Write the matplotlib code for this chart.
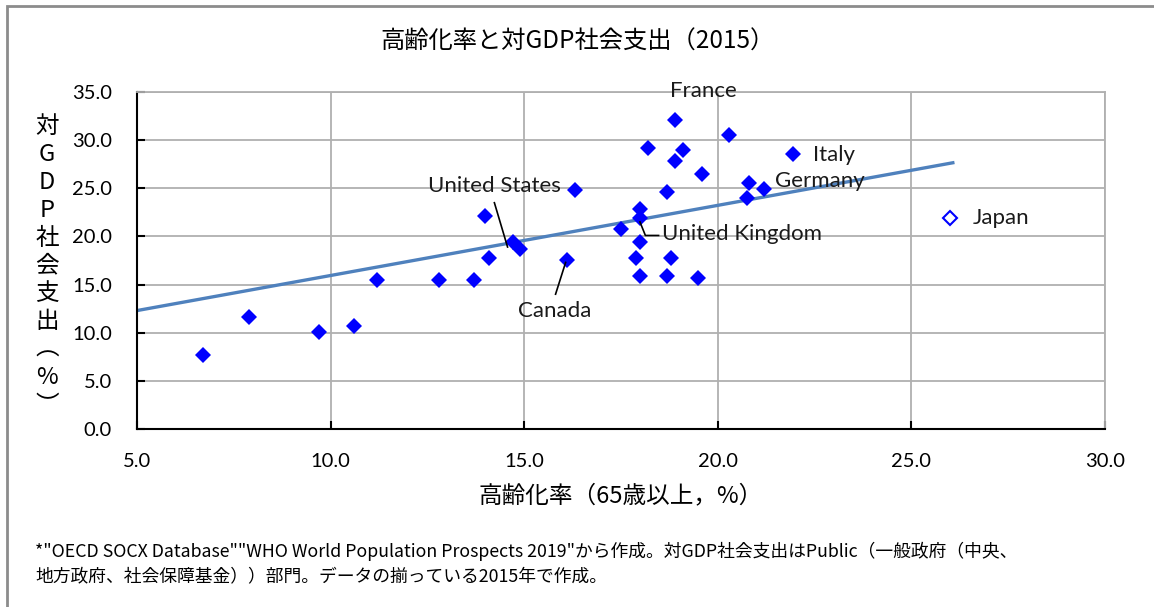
import numpy as np
import matplotlib
matplotlib.use("Agg")
import matplotlib.pyplot as plt
from matplotlib.patches import Rectangle

plt.rcParams['font.family'] = ['Noto Sans CJK JP', 'DejaVu Sans']

# Data: aging rate (%, 65+) and social expenditure (% of GDP), 2015
aging = [6.7, 7.9, 9.7, 10.6, 11.2, 12.8, 13.7, 14.0, 14.1, 14.7, 14.9,
         16.1, 16.3, 17.5, 18.0, 18.0, 18.0, 17.9, 18.0, 18.2, 18.9, 19.1,
         18.9, 18.7, 18.8, 18.7, 19.5, 19.6, 20.3, 20.8, 20.75, 21.2, 21.95]
social = [7.7, 11.6, 10.1, 10.7, 15.5, 15.5, 15.5, 22.1, 17.8, 19.4, 18.7,
          17.6, 24.8, 20.8, 22.9, 21.9, 19.45, 17.8, 15.9, 29.2, 32.1, 29.0,
          27.8, 24.6, 17.8, 15.9, 15.7, 26.5, 30.5, 25.5, 24.0, 24.9, 28.6]
japan_x = [26.0]
japan_y = [21.9]

# trend line as drawn in the reference (start / end values)
trend_x = [5.0, 26.07]
trend_y = [12.3, 27.65]

xticks = [5, 10, 15, 20, 25, 30]
yticks = [0, 5, 10, 15, 20, 25, 30, 35]

title = "高齢化率と対GDP社会支出（2015）"
xlabel = "高齢化率（65歳以上，%）"
ylabel_chars = ["対", "G", "D", "P", "社", "会", "支", "出", "︵", "%", "︶"]
note = ('*"OECD SOCX Database""WHO World Population Prospects 2019"から作成。対GDP社会支出はPublic（一般政府（中央、\n'
        '地方政府、社会保障基金））部門。データの揃っている2015年で作成。')

W, H = 1154, 607
fig = plt.figure(figsize=(W / 100, H / 100), dpi=100)
ax = fig.add_axes([137 / W, 1 - 429 / H, (1105 - 137) / W, (429 - 92) / H])

# chart frame
fig.patches.append(Rectangle((7 / W, -0.1), 1.2, 1 - 6 / H + 0.1, transform=fig.transFigure,
                             fill=False, edgecolor='#8c8c8c', linewidth=2))

ax.set_xlim(5, 30)
ax.set_ylim(0, 35)
ax.set_xticks(xticks)
ax.set_yticks(yticks)
ax.set_xticklabels([f"{v:.1f}" for v in xticks], fontfamily='Lato', fontsize=14.5)
ax.set_yticklabels([f"{v:.1f}" for v in yticks], fontfamily='Lato', fontsize=14.5)
ax.grid(True, color='#b0b0b0', linewidth=1.3)
ax.set_axisbelow(True)
for s in ['top', 'right']:
    ax.spines[s].set_color('#b0b0b0')
    ax.spines[s].set_linewidth(1.3)
for s in ['left', 'bottom']:
    ax.spines[s].set_color('black')
    ax.spines[s].set_linewidth(1.5)
ax.tick_params(axis='both', direction='in', length=6, width=1.5, color='black')
ax.tick_params(axis='x', pad=17)
ax.tick_params(axis='y', pad=18)

ax.plot(trend_x, trend_y, color='#4f81bd', linewidth=2.4, zorder=2)

ax.plot(aging, social, linestyle='none', marker='D', markersize=8.3,
        color='#0000ff', markeredgewidth=0, zorder=3)
ax.plot(japan_x, japan_y, linestyle='none', marker='D', markersize=7.5,
        markerfacecolor='white', markeredgecolor='#0000ff', markeredgewidth=1.5, zorder=3)

lab = dict(fontfamily='Lato', fontsize=16, color='#1a1a1a', zorder=4)
ax.text(19.64, 35.1, "France", ha='center', va='center', **lab)
ax.text(22.46, 28.45, "Italy", ha='left', va='center', **lab)
ax.text(21.49, 25.8, "Germany", ha='left', va='center', **lab)
ax.text(14.23, 25.2, "United States", ha='center', va='center', **lab)
ax.text(18.56, 20.25, "United Kingdom", ha='left', va='center', **lab)
ax.text(15.78, 12.25, "Canada", ha='center', va='center', **lab)
ax.text(26.59, 21.9, "Japan", ha='left', va='center', **lab)

# leader lines
ax.plot([14.23, 14.57], [23.5, 18.9], color='black', linewidth=1.2, zorder=4)
ax.plot([15.81, 16.07], [14.0, 17.3], color='black', linewidth=1.2, zorder=4)
ax.plot([17.99, 18.13, 18.47], [21.5, 20.1, 20.1], color='black', linewidth=1.2, zorder=4)

fig.text(577 / W, 1 - 42 / H, title, ha='center', va='center', fontsize=17.5)
fig.text(621 / W, 1 - 496 / H, xlabel, ha='center', va='center', fontsize=17)
fig.text(47 / W, 1 - 266 / H, "\n".join(ylabel_chars), ha='center', va='center',
         fontsize=17, linespacing=1.27)
fig.text(35 / W, 1 - 564 / H, note, ha='left', va='center', fontsize=12.8, linespacing=1.45)

fig.savefig("out.png", dpi=100)
